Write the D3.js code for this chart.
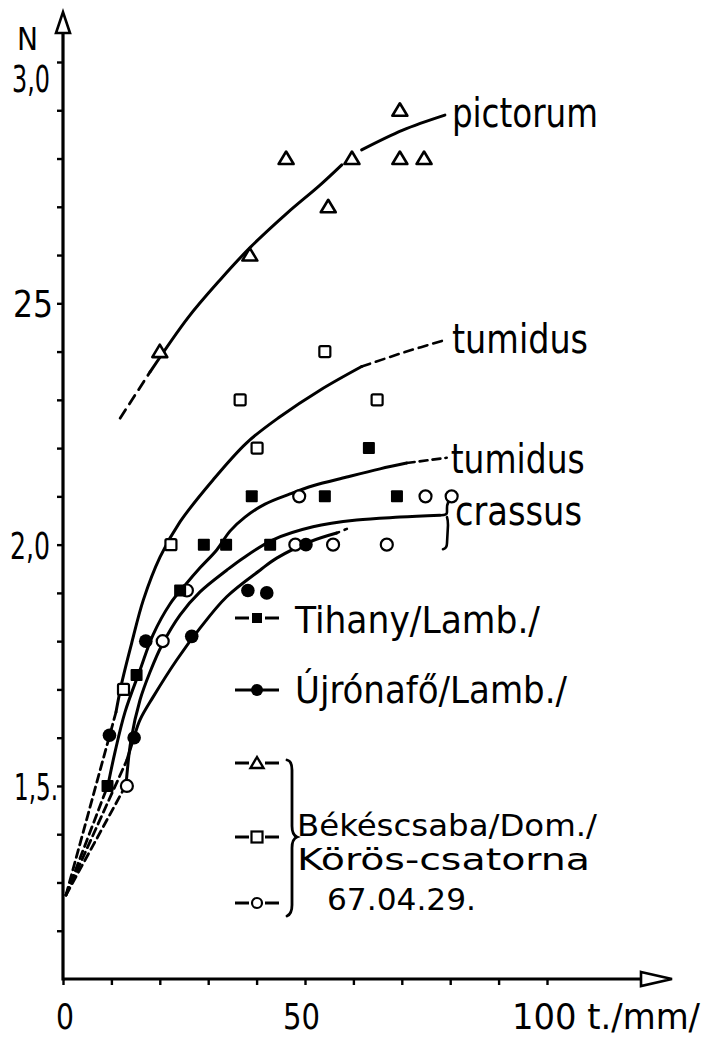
<!DOCTYPE html>
<html><head><meta charset="utf-8">
<script src="https://cdn.jsdelivr.net/npm/d3@7"></script>
<style>
body{margin:0;background:#fff}
svg{display:block}
text{font-family:"Liberation Sans Narrow","DejaVu Sans Condensed","Liberation Sans",sans-serif;fill:#000}
</style>
</head><body>
<svg id="c" width="704" height="1039"></svg>
<script>
// ---------- DATA ----------
const xTickValues = d3.range(0, 101, 10);
const yTickValues = d3.range(12, 31).map(d => d / 10);
const xLabelValues = [0, 50, 100];
const xLabelTexts = ["0", "50", "100 t./mm/"];
const yLabelValues = [3.0, 2.5, 2.0, 1.5];
const yLabelTexts = ["3,0", "25", "2,0", "1,5."];
const yTitle = "N";

// points: [length mm, N]
const bekesTriangles = [[20.0,2.40],[38.6,2.60],[46.1,2.80],[54.8,2.70],[59.7,2.80],[69.6,2.90],[69.6,2.80],[74.6,2.80]];
const bekesSquares   = [[12.5,1.70],[22.3,2.00],[36.6,2.30],[40.1,2.20],[54.1,2.40],[64.9,2.30]];
const bekesCircles   = [[13.2,1.50],[20.6,1.80],[25.6,1.905],[48.0,2.00],[48.8,2.10],[55.8,2.00],[66.9,2.00],[74.9,2.10],[80.3,2.10]];
const tihanySquares  = [[9.2,1.50],[15.2,1.73],[24.2,1.905],[29.1,2.00],[33.7,2.00],[42.8,2.00],[39.0,2.10],[54.1,2.10],[69.0,2.10],[63.2,2.20]];
const ujronaCircles  = [[9.6,1.605],[14.7,1.60],[17.1,1.80],[26.6,1.81],[38.2,1.905],[42.1,1.90],[50.2,2.00]];

// fitted curves
const pictorumDash = [[11.8,2.262],[18.0,2.358]];
const pictorumFitA = [[18.0,2.358],[25.8,2.470],[32.4,2.548],[38.8,2.617],[46.3,2.687],[53.1,2.745],[57.6,2.787]];
const pictorumFitB = [[61.7,2.818],[70.2,2.859],[78.9,2.890]];

const tumidusBekesDash0 = [[0.62,1.274],[10.95,1.653]];
const tumidusBekesFit = [[10.95,1.653],[12.13,1.713],[14.19,1.796],[16.59,1.885],[20.04,1.974],[24.17,2.047],[30.99,2.134],[37.95,2.211],[44.83,2.265],[53.10,2.320],[61.71,2.369]];
const tumidusBekesDash1 = [[61.71,2.369],[70.66,2.399],[78.93,2.424]];

const tumidusTihanyDash0 = [[0.62,1.274],[9.30,1.502]];
const tumidusTihanyFit = [[9.30,1.502],[10.74,1.570],[12.81,1.653],[15.91,1.740],[18.60,1.813],[22.11,1.877],[25.21,1.916],[28.31,1.952],[31.76,1.989],[34.50,2.028],[37.60,2.057],[41.74,2.084],[46.90,2.105],[51.65,2.122],[58.62,2.140],[65.50,2.157],[71.01,2.169]];
const tumidusTihanyDash1 = [[71.01,2.169],[79.28,2.180]];

const crassusBekesDash0 = [[0.62,1.274],[13.02,1.502]];
const crassusBekesFit = [[13.02,1.502],[14.05,1.595],[15.91,1.678],[17.98,1.736],[20.45,1.792],[24.17,1.854],[28.31,1.902],[33.82,1.947],[37.19,1.972],[43.39,2.010],[51.65,2.037],[60.68,2.051],[69.63,2.057],[77.89,2.061]];

const crassusUjronaDash0 = [[0.62,1.274],[13.22,1.554]];
const crassusUjronaFit = [[13.22,1.554],[14.67,1.601],[15.91,1.637],[18.60,1.684],[23.49,1.761],[28.31,1.827],[33.82,1.892],[40.70,1.947],[44.15,1.972],[51.03,2.006],[56.55,2.024]];
const crassusUjronaDot = [[56.55,2.024],[59.71,2.037]];

const curveNames = ["pictorum", "tumidus", "tumidus", "crassus"];
const legendNames = ["Tihany/Lamb./", "Újrónafő/Lamb./"];
const legendGroupLines = ["Békéscsaba/Dom./", "Körös-csatorna", "67.04.29."];

// ---------- LAYOUT ----------
const svg = d3.select("#c");
const x = d3.scaleLinear().domain([0, 100]).range([63, 547]);
const y = d3.scaleLinear().domain([1.1, 3.0]).range([979, 62]);
const ink = "#000";

// axes
const xAxisEnd = 672, yAxisTop = 12;
const ax = svg.append("g").attr("stroke", ink).attr("fill", "none");
ax.append("line").attr("x1", x(0)).attr("x2", xAxisEnd - 30).attr("y1", y(1.1)).attr("y2", y(1.1)).attr("stroke-width", 3.2);
ax.append("path").attr("d", `M${xAxisEnd-31},${y(1.1)-7} L${xAxisEnd},${y(1.1)} L${xAxisEnd-31},${y(1.1)+7} Z`).attr("stroke-width", 2.6).attr("fill", "#fff");
ax.append("line").attr("x1", x(0)).attr("x2", x(0)).attr("y1", y(1.1) + 1.5).attr("y2", yAxisTop + 20).attr("stroke-width", 3.2);
ax.append("path").attr("d", `M${x(0)-7},${yAxisTop+21} L${x(0)},${yAxisTop} L${x(0)+7},${yAxisTop+21} Z`).attr("stroke-width", 2.6).attr("fill", "#fff");

const xAxisG = svg.append("g").attr("transform", `translate(0,${y(1.1)})`)
  .call(d3.axisBottom(x).tickValues(xTickValues).tickSize(6).tickFormat(""));
const yAxisG = svg.append("g").attr("transform", `translate(${x(0)},0)`)
  .call(d3.axisLeft(y).tickValues(yTickValues).tickSize(6).tickFormat(""));
[xAxisG, yAxisG].forEach(g => {
  g.select(".domain").remove();
  g.selectAll(".tick line").attr("stroke", ink).attr("stroke-width", 2.4);
});

// tick labels
const xLabelDx = [-7, -22, -35], xLabelW = [18, 37, 188];
svg.append("g").selectAll("text").data(xLabelValues).join("text")
  .attr("x", (d, i) => x(d) + xLabelDx[i]).attr("y", 1029)
  .attr("font-size", 36)
  .attr("textLength", (d, i) => xLabelW[i]).attr("lengthAdjust", "spacingAndGlyphs")
  .text((d, i) => xLabelTexts[i]);

const yLabelX = [12, 13, 10, 14], yLabelW = [38, 40, 40, 44];
svg.append("g").selectAll("text").data(yLabelValues).join("text")
  .attr("x", (d, i) => yLabelX[i])
  .attr("y", d => y(d) + (d === 3.0 ? 30 : 14))
  .attr("font-size", 38)
  .attr("textLength", (d, i) => yLabelW[i]).attr("lengthAdjust", "spacingAndGlyphs")
  .text((d, i) => yLabelTexts[i]);
svg.append("text").attr("x", 17).attr("y", 50).attr("font-size", 32)
  .attr("textLength", 21).attr("lengthAdjust", "spacingAndGlyphs").text(yTitle);

// curves
const line = d3.line().x(d => x(d[0])).y(d => y(d[1])).curve(d3.curveCatmullRom.alpha(0.5));
const curves = [
  [pictorumDash, "10,7", 2.8], [pictorumFitA, null, 3], [pictorumFitB, null, 3],
  [tumidusBekesDash0, "8,5", 2.8], [tumidusBekesFit, null, 3], [tumidusBekesDash1, "9,6", 2.6],
  [tumidusTihanyDash0, "8,5", 2.8], [tumidusTihanyFit, null, 3], [tumidusTihanyDash1, "8,5", 2.6],
  [crassusBekesDash0, "8,5", 2.8], [crassusBekesFit, null, 3],
  [crassusUjronaDash0, "8,5", 2.8], [crassusUjronaFit, null, 3], [crassusUjronaDot, "2.5,6", 2.6]
];
svg.append("g").selectAll("path").data(curves).join("path")
  .attr("d", d => line(d[0])).attr("fill", "none").attr("stroke", ink)
  .attr("stroke-width", d => d[2]).attr("stroke-linecap", "round")
  .attr("stroke-dasharray", d => d[1]);

// curve labels
const ends = [pictorumFitB, tumidusBekesDash1, tumidusTihanyDash1, crassusBekesFit].map(a => a[a.length - 1]);
const lblDx = [7, 7, 4, 15], lblDy = [12, 13, 15, 10], lblW = [146, 136, 134, 127];
svg.append("g").selectAll("text").data(curveNames).join("text")
  .attr("x", (d, i) => x(ends[i][0]) + lblDx[i])
  .attr("y", (d, i) => y(ends[i][1]) + lblDy[i])
  .attr("font-size", 40)
  .attr("textLength", (d, i) => lblW[i]).attr("lengthAdjust", "spacingAndGlyphs")
  .text(d => d);

// crassus brace
const ce = ends[3];
const bx = x(ce[0]) + 7, by = y(ce[1]);
svg.append("path")
  .attr("d", `M${bx+5},${by-16} Q${bx},${by-14} ${bx},${by-7} L${bx},${by-3} Q${bx},${by} ${bx-6},${by} M${bx},${by+2} Q${bx+1},${by+5} ${bx+1},${by+10} L${bx},${by+28} Q${bx},${by+33} ${bx-4},${by+34}`)
  .attr("fill", "none").attr("stroke", ink).attr("stroke-width", 2.6).attr("stroke-linecap", "round");

// markers
const triPath = "M0,-7 L7.5,5.5 L-7.5,5.5 Z";
const mk = svg.append("g");
mk.selectAll(".tri").data(bekesTriangles).join("path").attr("class", "tri")
  .attr("transform", d => `translate(${x(d[0])},${y(d[1])})`).attr("d", triPath)
  .attr("fill", "#fff").attr("stroke", ink).attr("stroke-width", 2.6).attr("stroke-linejoin", "round");
mk.selectAll(".osq").data(bekesSquares).join("rect").attr("class", "osq")
  .attr("x", d => x(d[0]) - 5.5).attr("y", d => y(d[1]) - 5.5).attr("width", 11).attr("height", 11)
  .attr("rx", 1.5).attr("fill", "#fff").attr("stroke", ink).attr("stroke-width", 2.2);
mk.selectAll(".ocirc").data(bekesCircles).join("circle").attr("class", "ocirc")
  .attr("cx", d => x(d[0])).attr("cy", d => y(d[1])).attr("r", 6)
  .attr("fill", "#fff").attr("stroke", ink).attr("stroke-width", 2.2);
mk.selectAll(".fsq").data(tihanySquares).join("rect").attr("class", "fsq")
  .attr("x", d => x(d[0]) - 6).attr("y", d => y(d[1]) - 6).attr("width", 12).attr("height", 12)
  .attr("rx", 1).attr("fill", ink);
mk.selectAll(".fcirc").data(ujronaCircles).join("circle").attr("class", "fcirc")
  .attr("cx", d => x(d[0])).attr("cy", d => y(d[1])).attr("r", 6.8).attr("fill", ink);

// legend
const lg = svg.append("g");
const lgSym = (cy, kind) => {
  const g = lg.append("g").attr("transform", `translate(257,${cy})`);
  g.append("line").attr("x1", -22).attr("x2", -8).attr("stroke", ink).attr("stroke-width", 3);
  g.append("line").attr("x1", 8).attr("x2", 22).attr("stroke", ink).attr("stroke-width", 3);
  if (kind === "fsq") g.append("rect").attr("x", -5).attr("y", -5).attr("width", 10).attr("height", 10).attr("fill", ink);
  if (kind === "fcirc") { g.append("line").attr("x1", -8).attr("x2", 8).attr("stroke", ink).attr("stroke-width", 3); g.append("circle").attr("r", 6).attr("fill", ink); }
  if (kind === "tri") g.append("path").attr("d", "M0,-6 L6.5,5 L-6.5,5 Z").attr("fill", "#fff").attr("stroke", ink).attr("stroke-width", 2.4);
  if (kind === "osq") g.append("rect").attr("x", -5.5).attr("y", -5.5).attr("width", 11).attr("height", 11).attr("fill", "#fff").attr("stroke", ink).attr("stroke-width", 2.2);
  if (kind === "ocirc") g.append("circle").attr("r", 5).attr("fill", "#fff").attr("stroke", ink).attr("stroke-width", 2.2);
};
lgSym(618, "fsq");
lgSym(690, "fcirc");
lgSym(763, "tri");
lgSym(837, "osq");
lgSym(903, "ocirc");

const lgTextY = [633, 703], lgTextW = [245, 272];
lg.selectAll(".lt").data(legendNames).join("text").attr("class", "lt")
  .attr("x", 295).attr("y", (d, i) => lgTextY[i]).attr("font-size", 38)
  .attr("textLength", (d, i) => lgTextW[i]).attr("lengthAdjust", "spacingAndGlyphs").text(d => d);

const grpX = [297, 297, 327], grpY = [836, 870, 910], grpW = [300, 293, 149];
lg.selectAll(".gt").data(legendGroupLines).join("text").attr("class", "gt")
  .attr("x", (d, i) => grpX[i]).attr("y", (d, i) => grpY[i]).attr("font-size", 31)
  .attr("textLength", (d, i) => grpW[i]).attr("lengthAdjust", "spacingAndGlyphs").text(d => d);

lg.append("path")
  .attr("d", "M287,760 Q292,761 292,770 L292,826 Q292,835 297,837 Q292,839 292,848 L292,905 Q292,914 287,916")
  .attr("fill", "none").attr("stroke", ink).attr("stroke-width", 2.8).attr("stroke-linecap", "round");
</script>
</body></html>
